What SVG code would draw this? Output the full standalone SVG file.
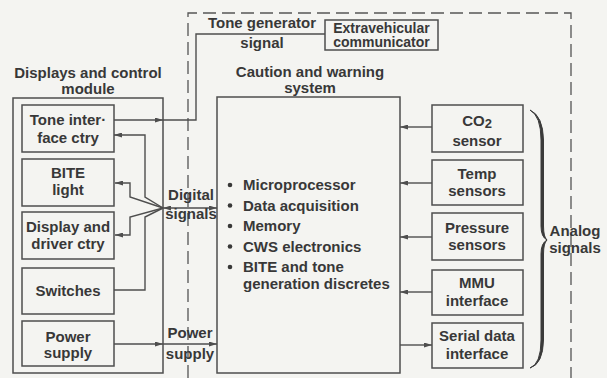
<svg xmlns="http://www.w3.org/2000/svg" width="607" height="378" viewBox="0 0 607 378">
<defs>
<style>
.bx{fill:none;stroke:#4e4e4e;stroke-width:1.5}
.ln{fill:none;stroke:#4e4e4e;stroke-width:1.4}
.ds{fill:none;stroke:#555;stroke-width:1.3;stroke-dasharray:13 6}
text{font-family:"Liberation Sans",Arial,sans-serif;font-weight:bold;font-size:15px;fill:#383838}
.c{text-anchor:middle}
.s{font-size:14px}
</style>
<marker id="ah" viewBox="0 0 8 5" refX="8" refY="2.5" markerWidth="8" markerHeight="5" orient="auto-start-reverse" markerUnits="userSpaceOnUse">
<path d="M0,0 L8,2.5 L0,5 z" fill="#4e4e4e"/>
</marker>
</defs>
<rect width="607" height="378" fill="#f4f4f1"/>

<g id="boundary">
<path class="ds" d="M188,378 V13 H571 V378"/>
</g>

<g id="dcm">
<rect class="bx" x="13" y="98" width="150" height="275"/>
<text class="c" x="88" y="78">Displays and control</text>
<text class="c" x="88" y="94">module</text>
</g>
<g id="tone-iface">
<rect class="bx" x="22" y="105" width="92" height="47"/>
<text class="c" x="68" y="125">Tone inter·</text>
<text class="c" x="68" y="143">face ctry</text>
</g>
<g id="bite-light">
<rect class="bx" x="22" y="159" width="92" height="47"/>
<text class="c" x="68" y="178">BITE</text>
<text class="c" x="68" y="195">light</text>
</g>
<g id="display-driver">
<rect class="bx" x="22" y="212" width="92" height="47"/>
<text class="c" x="68" y="232">Display and</text>
<text class="c" x="68" y="249">driver ctry</text>
</g>
<g id="switches">
<rect class="bx" x="22" y="268" width="92" height="46"/>
<text class="c" x="68" y="296">Switches</text>
</g>
<g id="power-supply">
<rect class="bx" x="22" y="321" width="92" height="45"/>
<text class="c" x="68" y="342">Power</text>
<text class="c" x="68" y="358">supply</text>
</g>

<g id="ev-comm">
<rect class="bx" x="325" y="20" width="113" height="30"/>
<text class="c s" x="381.5" y="32.5">Extravehicular</text>
<text class="c s" x="381.5" y="47">communicator</text>
</g>

<g id="cws">
<rect class="bx" x="217" y="97" width="183" height="276"/>
<text class="c" x="310" y="77">Caution and warning</text>
<text class="c" x="310" y="93">system</text>
<g fill="#383838">
<circle cx="230" cy="185" r="2.3"/>
<circle cx="230" cy="205.5" r="2.3"/>
<circle cx="230" cy="226" r="2.3"/>
<circle cx="230" cy="246.5" r="2.3"/>
<circle cx="230" cy="267" r="2.3"/>
</g>
<text x="243" y="190">Microprocessor</text>
<text x="243" y="210.5">Data acquisition</text>
<text x="243" y="231">Memory</text>
<text x="243" y="251.5">CWS electronics</text>
<text x="243" y="272">BITE and tone</text>
<text x="243" y="289">generation discretes</text>
</g>

<g id="co2">
<rect class="bx" x="432" y="105" width="91" height="47"/>
<text class="c" x="477" y="126">CO<tspan dy="2" font-size="13">2</tspan></text>
<text class="c" x="477" y="146">sensor</text>
</g>
<g id="temp">
<rect class="bx" x="432" y="160" width="91" height="45"/>
<text class="c" x="477" y="179">Temp</text>
<text class="c" x="477" y="196">sensors</text>
</g>
<g id="pressure">
<rect class="bx" x="432" y="213" width="91" height="47"/>
<text class="c" x="477" y="233">Pressure</text>
<text class="c" x="477" y="250">sensors</text>
</g>
<g id="mmu">
<rect class="bx" x="432" y="270" width="91" height="45"/>
<text class="c" x="477" y="288">MMU</text>
<text class="c" x="477" y="306">interface</text>
</g>
<g id="serial">
<rect class="bx" x="432" y="323" width="91" height="45"/>
<text class="c" x="477" y="341">Serial data</text>
<text class="c" x="477" y="359">interface</text>
</g>

<g id="connectors">
<path class="ln" d="M114,120 H163" marker-end="url(#ah)"/>
<path class="ln" d="M163,120 H196 V34 H325"/>
<path class="ln" d="M163,208 L145,197 V135 H114" marker-end="url(#ah)"/>
<path class="ln" d="M163,208 L130,197 V183 H115" marker-end="url(#ah)"/>
<path class="ln" d="M163,208 L130,217 V235 H115" marker-end="url(#ah)"/>
<path class="ln" d="M114,290 H145 V217 L163,208"/>
<path class="ln" d="M163,208 H217" marker-start="url(#ah)" marker-end="url(#ah)"/>
<path class="ln" d="M114,344 H163" marker-end="url(#ah)"/>
<path class="ln" d="M163,344 H217" marker-end="url(#ah)"/>
<path class="ln" d="M432,127 H400" marker-end="url(#ah)"/>
<path class="ln" d="M432,183 H400" marker-end="url(#ah)"/>
<path class="ln" d="M432,237 H400" marker-end="url(#ah)"/>
<path class="ln" d="M432,292 H400" marker-end="url(#ah)"/>
<path class="ln" d="M400,345 H432" marker-end="url(#ah)"/>
<text class="c" x="191" y="200">Digital</text>
<text class="c" x="191" y="219">signals</text>
<text class="c" x="190" y="338">Power</text>
<text class="c" x="190" y="359">supply</text>
<text class="c" x="262" y="28">Tone generator</text>
<text class="c" x="262" y="48">signal</text>
<path d="M530,110 Q541,116 541,140 L541,226 Q541,237 547,240 Q541,243 541,254 L541,340 Q541,364 530,368 Q543,364 543.5,340 L543.5,254 Q543.5,243 547,240 Q543.5,237 543.5,226 L543.5,140 Q543,116 530,110 z" fill="#3a3a3a" stroke="#3a3a3a" stroke-width="1"/>
<text class="c" x="575" y="236">Analog</text>
<text class="c" x="575" y="253">signals</text>
</g>
</svg>
